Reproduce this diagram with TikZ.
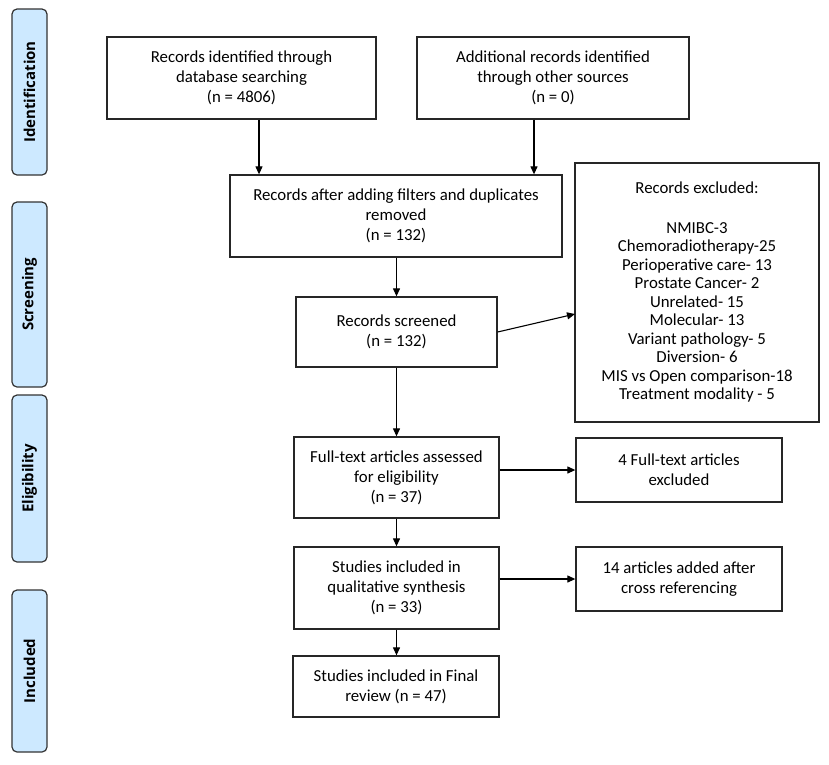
\documentclass[tikz,border=0pt]{standalone}
\usepackage{fontspec}
\setmainfont{Carlito}
\newfontfamily\sidefont{Open Sans}
\usetikzlibrary{arrows.meta}
\begin{document}
\begin{tikzpicture}[x=1pt,y=-1pt,
  box/.style={draw=black!85,line width=1.3pt,fill=white,align=center,inner sep=2pt,
    font=\fontsize{16.8}{20}\selectfont},
  side/.style={draw=black!80,line width=1.2pt,fill=sideblue,rounded corners=5pt,
    minimum height=35pt,inner sep=0pt,rotate=90,font=\sidefont\bfseries\fontsize{15}{18}\selectfont},
  arr/.style={line width=1.1pt,-{Triangle[length=8pt,width=7pt]}}]
\definecolor{sideblue}{HTML}{CDE9FF}
\useasboundingbox (0,0) rectangle (829,764);
% side labels
\node[side,minimum width=166pt] (sid) at (29.5,92) {Identification};
\node[side,minimum width=185pt] (ssc) at (29.5,294.5) {Screening};
\node[side,minimum width=167pt] (sel) at (29.5,478.5) {Eligibility};
\node[side,minimum width=162pt] (sin) at (29.5,671) {Included};
% boxes
\node[box,minimum width=269pt,minimum height=82pt] (b1) at (241.5,78)
  {Records identified through\\database searching\\(n = 4806)};
\node[box,minimum width=272pt,minimum height=82pt] (b2) at (553,78)
  {Additional records identified\\through other sources\\(n = 0)};
\node[box,minimum width=332pt,minimum height=82pt] (b3) at (396,216)
  {Records after adding filters and duplicates\\removed\\(n = 132)};
\node[box,minimum width=201pt,minimum height=70pt] (b4) at (396.5,332)
  {Records screened\\(n = 132)};
\node[box,minimum width=244pt,minimum height=259pt,font=\fontsize{16.8}{18.5}\selectfont] (b5) at (697,292.5)
  {Records excluded:\\[21pt]NMIBC-3\\Chemoradiotherapy-25\\Perioperative care- 13\\Prostate Cancer- 2\\Unrelated- 15\\Molecular- 13\\Variant pathology- 5\\Diversion- 6\\MIS vs Open comparison-18\\Treatment modality - 5};
\node[box,minimum width=205pt,minimum height=81pt] (b6) at (396.5,477.5)
  {Full-text articles assessed\\for eligibility\\(n = 37)};
\node[box,minimum width=206pt,minimum height=64pt] (b7) at (679,470)
  {4 Full-text articles\\excluded};
\node[box,minimum width=205pt,minimum height=82pt] (b8) at (396.5,588)
  {Studies included in\\qualitative synthesis\\(n = 33)};
\node[box,minimum width=206pt,minimum height=64pt] (b9) at (679,579)
  {14 articles added after\\cross referencing};
\node[box,minimum width=206pt,minimum height=61pt] (b10) at (396,686.5)
  {Studies included in Final\\review (n = 47)};
% connectors
\coordinate (x1) at (259,0);
\coordinate (x2) at (534,0);
\coordinate (e5) at (575,314);
\draw[arr] (b1.south -| x1) -- (b3.north -| x1);
\draw[arr] (b2.south -| x2) -- (b3.north -| x2);
\draw[arr] (b3.south -| b4) -- (b4.north);
\draw[arr] (b4.east) -- (e5);
\draw[arr] (b4.south) -- (b6.north -| b4);
\draw[arr] (b6.east |- b7) -- (b7.west);
\draw[arr] (b6.south) -- (b8.north);
\draw[arr] (b8.east |- b9) -- (b9.west);
\draw[arr] (b8.south) -- (b10.north -| b8);
\end{tikzpicture}
\end{document}
